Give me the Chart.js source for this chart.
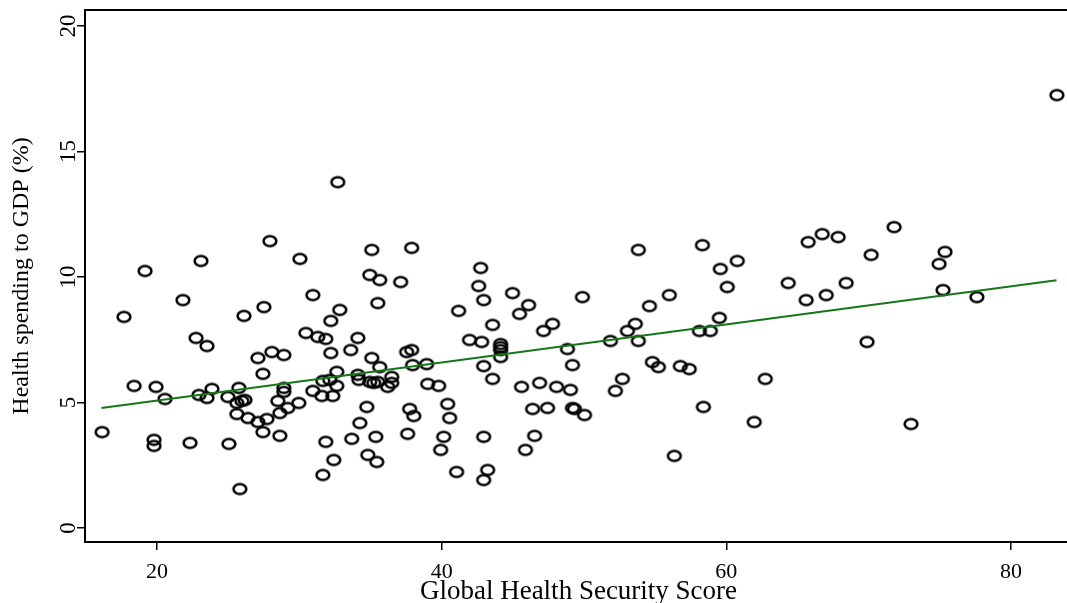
<!DOCTYPE html>
<html lang="en">
<head>
  <meta charset="UTF-8">
  <title>Health spending vs Global Health Security Score</title>
  <style>
    * { margin: 0; padding: 0; box-sizing: border-box; }
    body { background: #fff; width: 1067px; height: 603px; overflow: hidden; }
    /* a few px wider than the page: the plot runs off the right edge like the original crop */
    .chart-box { position: relative; width: 1072px; height: 603px; }
  </style>
  <script src="https://cdn.jsdelivr.net/npm/chart.js"></script>
</head>
<body>
  <div class="chart-box"><canvas id="scatterChart"></canvas></div>

  <script>
    // Global Health Security score of each country
    const scoreX = [
      16.14, 17.68, 18.39, 19.16, 19.93, 19.79, 19.79, 20.56, 21.82, 22.32,
      22.74, 22.95, 23.09, 23.51, 23.51, 23.86, 24.98, 25.05, 25.75, 25.61,
      25.96, 26.18, 25.61, 25.82, 26.11, 26.39, 27.09, 27.72, 27.44, 28.63,
      27.09, 28.07, 28.91, 27.44, 27.51, 27.93, 28.91, 28.91, 28.49, 29.19,
      28.63, 29.96, 30.04, 30.95, 30.46, 31.30, 31.86, 30.95, 31.58, 32.35,
      31.65, 32.14, 32.63, 32.63, 32.21, 32.21, 32.84, 32.70, 31.86, 31.65,
      32.42, 33.61, 34.11, 34.11, 34.18, 35.09, 35.65, 34.95, 35.23, 35.51,
      36.49, 36.21, 36.49, 34.74, 34.25, 33.68, 35.37, 34.81, 35.44, 35.09,
      34.95, 35.65, 35.51, 37.12, 37.89, 37.54, 37.89, 37.96, 38.95, 37.61,
      37.75, 38.04,
      39.02, 39.79, 40.42, 40.56, 40.14, 39.93, 41.05, 41.19, 41.96, 42.81,
      42.74, 42.60, 42.95, 42.95, 43.58, 42.95, 43.23, 42.95, 43.58, 44.14,
      44.14, 44.14, 44.14, 44.98, 45.47, 46.11, 45.61, 46.39, 46.53, 45.89,
      46.88, 47.44, 47.16, 47.79, 48.07, 48.84, 49.05, 49.19, 49.19, 49.33,
      50.04, 49.89, 51.86, 52.21, 52.70, 53.05, 53.61, 53.82, 53.82, 54.60,
      54.81, 55.23, 56.00, 56.35, 56.77, 57.40, 58.11, 58.88, 58.32, 58.39,
      59.51, 59.58, 60.07, 60.77,
      61.96, 62.74, 64.35, 65.61, 65.75, 66.74, 67.02, 67.86, 68.42, 69.89,
      70.18, 71.79, 72.98, 74.95, 75.37, 75.23, 77.61, 83.23
    ];

    // Health spending to GDP (%), same order as scoreX
    const spendY = [
      3.82, 8.41, 5.66, 10.24, 5.62, 3.51, 3.27, 5.14, 9.08, 3.39,
      7.57, 5.30, 10.64, 7.25, 5.18, 5.54, 5.22, 3.35, 5.58, 4.98,
      5.06, 5.10, 4.54, 1.55, 8.45, 4.38, 4.22, 4.34, 3.82, 3.67,
      6.77, 7.01, 6.89, 6.14, 8.80, 11.43, 5.58, 5.42, 5.06, 4.78,
      4.58, 4.98, 10.72, 9.28, 7.77, 7.61, 7.53, 5.46, 5.26, 5.26,
      5.86, 5.90, 6.22, 5.66, 6.97, 8.25, 8.69, 13.78, 3.43, 2.11,
      2.71, 7.09, 7.57, 6.10, 5.90, 6.77, 6.41, 5.82, 5.78, 5.82,
      6.02, 5.62, 5.78, 4.82, 4.18, 3.55, 3.63, 2.91, 2.63, 11.08,
      10.08, 9.88, 8.96, 9.80, 11.16, 7.01, 7.09, 6.49, 6.53, 3.75,
      4.74, 4.46,
      5.74, 5.66, 4.94, 4.38, 3.63, 3.11, 2.23, 8.65, 7.49, 7.41,
      10.36, 9.64, 9.08, 6.45, 5.94, 3.63, 2.31, 1.91, 8.09, 7.33,
      7.21, 7.09, 6.81, 9.36, 8.53, 8.88, 5.62, 4.74, 3.67, 3.11,
      5.78, 4.78, 7.85, 8.13, 5.62, 7.13, 5.50, 6.49, 4.78, 4.74,
      4.50, 9.20, 7.45, 5.46, 5.94, 7.85, 8.13, 7.45, 11.08, 8.84,
      6.61, 6.41, 9.28, 2.87, 6.45, 6.33, 7.85, 7.85, 11.27, 4.82,
      8.37, 10.32, 9.60, 10.64,
      4.22, 5.94, 9.76, 9.08, 11.39, 11.71, 9.28, 11.59, 9.76, 7.41,
      10.88, 11.99, 4.14, 10.52, 11.00, 9.48, 9.20, 17.25
    ];

    // fitted line end points
    const fitX = [16.1, 83.2];
    const fitY = [4.78, 9.87];

    const xTicks = [20, 40, 60, 80];
    const yTicks = [0, 5, 10, 15, 20];

    const serif = '"Liberation Serif", "Times New Roman", serif';

    // hollow, slightly wide circle like the original markers
    function makeMarker() {
      const c = document.createElement('canvas');
      c.width = 18;
      c.height = 15;
      const g = c.getContext('2d');
      g.strokeStyle = '#000';
      g.lineWidth = 2.5;
      g.beginPath();
      g.ellipse(9, 7.5, 6.4, 4.9, 0, 0, Math.PI * 2);
      g.stroke();
      return c;
    }

    // top frame line + rotated y tick labels
    const framePlugin = {
      id: 'frame',
      afterDraw(chart) {
        const { ctx, chartArea } = chart;
        const yScale = chart.scales.y;
        ctx.save();
        ctx.strokeStyle = '#000';
        ctx.lineWidth = 2;
        ctx.beginPath();
        ctx.moveTo(chartArea.left, chartArea.top);
        ctx.lineTo(chartArea.right, chartArea.top);
        ctx.stroke();

        ctx.fillStyle = '#000';
        ctx.font = '23px ' + serif;
        ctx.textAlign = 'center';
        ctx.textBaseline = 'alphabetic';
        yTicks.forEach(v => {
          ctx.save();
          ctx.translate(chartArea.left - 10, yScale.getPixelForValue(v));
          ctx.rotate(-Math.PI / 2);
          ctx.fillText(String(v), 0, 0);
          ctx.restore();
        });
        ctx.restore();
      }
    };

    const points = scoreX.map((x, i) => ({ x: x, y: spendY[i] }));
    const fitLine = fitX.map((x, i) => ({ x: x, y: fitY[i] }));

    new Chart(document.getElementById('scatterChart'), {
      type: 'scatter',
      data: {
        datasets: [
          {
            type: 'line',
            data: fitLine,
            borderColor: '#17751a',
            borderWidth: 2,
            pointRadius: 0,
            fill: false
          },
          {
            data: points,
            pointStyle: makeMarker(),
            pointRadius: 6
          }
        ]
      },
      options: {
        responsive: true,
        maintainAspectRatio: false,
        animation: false,
        events: [],
        layout: { autoPadding: false, padding: { top: 10, right: 0, bottom: 0, left: 0 } },
        plugins: {
          legend: { display: false },
          tooltip: { enabled: false }
        },
        scales: {
          x: {
            type: 'linear',
            min: 14.94,
            max: 84.29,
            afterBuildTicks: s => { s.ticks = xTicks.map(v => ({ value: v })); },
            afterFit: s => { s.height = 61; },
            ticks: { color: '#000', font: { family: serif, size: 22 }, padding: 9, maxRotation: 0 },
            grid: { drawOnChartArea: false, drawTicks: true, tickLength: 8, color: '#000', lineWidth: 1.5 },
            border: { display: true, color: '#000', width: 2 },
            title: {
              display: true,
              text: 'Global Health Security Score',
              color: '#000',
              font: { family: serif, size: 27, lineHeight: 0.85 },
              padding: { top: 0, bottom: 0 }
            }
          },
          y: {
            type: 'linear',
            min: -0.56,
            max: 20.64,
            afterBuildTicks: s => { s.ticks = yTicks.map(v => ({ value: v })); },
            afterFit: s => { s.width = 85; },
            ticks: { display: false },
            grid: { drawOnChartArea: false, drawTicks: true, tickLength: 8, color: '#000', lineWidth: 1.5 },
            border: { display: true, color: '#000', width: 2 },
            title: {
              display: true,
              text: 'Health spending to GDP (%)',
              color: '#000',
              font: { family: serif, size: 24, lineHeight: 1.2 },
              padding: { top: 7, bottom: 0 }
            }
          }
        }
      },
      plugins: [framePlugin]
    });
  </script>
</body>
</html>
